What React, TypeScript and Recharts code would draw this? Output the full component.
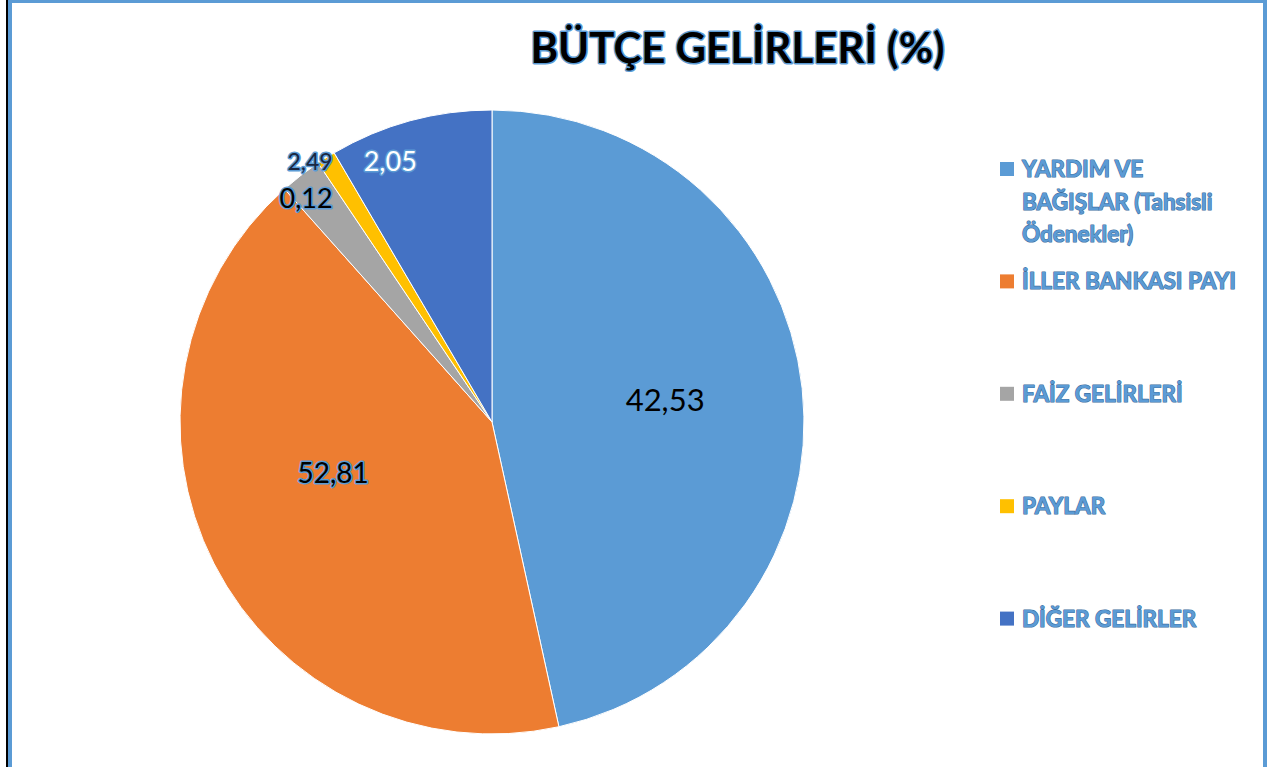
import { Cell, Legend, Pie, PieChart } from "recharts";

const title = "BÜTÇE GELİRLERİ (%)";
const categories = [
  "YARDIM VE BAĞIŞLAR (Tahsisli Ödenekler)",
  "İLLER BANKASI PAYI",
  "FAİZ GELİRLERİ",
  "PAYLAR",
  "DİĞER GELİRLER",
];
// slice sizes as drawn in the picture (share of the circle)
const sliceShares = [46.56, 41.86, 2.17, 0.97, 8.44];
// label texts printed on the slices
const labelTexts = ["42,53", "52,81", "0,12", "2,49", "2,05"];
const colors = ["#5B9BD5", "#ED7D31", "#A5A5A5", "#FFC000", "#4472C4"];

const FONT = "Lato, 'Open Sans', sans-serif";
const RAD = Math.PI / 180;

const data = categories.map((name, i) => ({ name, value: sliceShares[i] }));

// where each label sits: fraction of radius, clockwise nudge in degrees
const LABEL_LAYOUT = [
  { r: 0.56, turn: -1.5, size: 31, fill: "#000", halo: false },
  { r: 0.534, turn: 9.55, size: 28, fill: "#000", halo: true },
  { r: 0.933, turn: -1.9, size: 27, fill: "#000", halo: true },
  { r: 1.02, turn: -2.75, size: 23, fill: "#1b2740", halo: true },
  { r: 0.898, turn: -6.1, size: 27, fill: "#fff", halo: true },
];

function renderLabel(props: any) {
  const { cx, cy, midAngle, outerRadius, index } = props;
  const l = LABEL_LAYOUT[index];
  const a = (midAngle - l.turn) * RAD;
  const x = cx + outerRadius * l.r * Math.cos(a);
  const y = cy - outerRadius * l.r * Math.sin(a);
  return (
    <text
      x={x}
      y={y}
      textAnchor="middle"
      dominantBaseline="central"
      fontFamily={FONT}
      fontSize={l.size}
      fill={l.fill}
      stroke={l.halo ? "#5B9BD5" : "none"}
      strokeWidth={l.halo ? 3 : 0}
      strokeLinejoin="round"
      paintOrder="stroke"
    >
      {labelTexts[index]}
    </text>
  );
}

function wrapWords(text: string, maxWidth: number, font: string) {
  const ctx = document.createElement("canvas").getContext("2d");
  if (!ctx) return [text];
  ctx.font = font;
  const words = text.split(" ");
  const lines: string[] = [];
  let cur = "";
  for (const w of words) {
    const next = cur ? cur + " " + w : w;
    if (cur && ctx.measureText(next).width > maxWidth) {
      lines.push(cur);
      cur = w;
    } else cur = next;
  }
  if (cur) lines.push(cur);
  return lines;
}

function renderLegend(props: any) {
  // keep the legend in data order
  const items = [...(props.payload || [])].sort(
    (a: any, b: any) => categories.indexOf(a.value) - categories.indexOf(b.value)
  );
  return (
    <svg width={270} height={520} style={{ overflow: "visible" }}>
      {items.map((item: any, i: number) => {
        const base = 27 + i * 112.4;
        const idx = categories.indexOf(item.value);
        const lines = wrapWords(String(item.value), 232, `bold 23px ${FONT}`);
        return (
          <g key={`leg-${i}`}>
            <rect x={0} y={base - 15} width={14} height={14} fill={colors[idx]} />
            <text
              x={22}
              y={base}
              fontFamily={FONT}
              fontWeight="bold"
              fontSize={22.5}
              fill="#5B9BD5"
              stroke="#3E6E9E"
              strokeWidth={1.2}
              strokeLinejoin="round"
              paintOrder="stroke"
            >
              {lines.map((ln, j) => (
                <tspan key={j} x={22} y={base + j * 32.5}>
                  {ln}
                </tspan>
              ))}
            </text>
          </g>
        );
      })}
    </svg>
  );
}

export default function App() {
  return (
    <div style={{ position: "absolute", left: 0, top: 0, width: 1278, height: 767, overflow: "hidden", background: "#fff" }}>
      <div style={{ position: "absolute", left: 6, top: 0, width: 2, height: 767, background: "#000" }} />
      <div
        style={{
          position: "absolute",
          left: 8,
          top: 0,
          width: 1259,
          height: 820,
          boxSizing: "border-box",
          borderLeft: "4px solid #5B9BD5",
          borderRight: "4px solid #5B9BD5",
          borderTop: "3px solid #5B9BD5",
        }}
      />
      <svg width={1278} height={100} style={{ position: "absolute", left: 0, top: 0 }}>
        <text
          x={737.5}
          y={63}
          textAnchor="middle"
          fontFamily={FONT}
          fontWeight="bold"
          fontSize={42}
          fill="#000"
          stroke="#5B9BD5"
          strokeWidth={3}
          strokeLinejoin="round"
          paintOrder="stroke"
        >
          {title}
        </text>
      </svg>
      <div style={{ position: "absolute", left: 0, top: 0 }}>
        <PieChart width={1278} height={767} margin={{ top: 0, right: 0, bottom: 0, left: 0 }}>
          <Pie
            data={data}
            dataKey="value"
            nameKey="name"
            cx={492}
            cy={422}
            outerRadius={312}
            startAngle={90}
            endAngle={-270}
            stroke="#fff"
            strokeWidth={1}
            label={renderLabel}
            labelLine={false}
            isAnimationActive={false}
          >
            {data.map((d, i) => (
              <Cell key={`cell-${d.name}`} fill={colors[i]} />
            ))}
          </Pie>
          <Legend
            content={renderLegend}
            wrapperStyle={{ position: "absolute", left: 1000, top: 150, width: 270, height: 520 }}
          />
        </PieChart>
      </div>
    </div>
  );
}
